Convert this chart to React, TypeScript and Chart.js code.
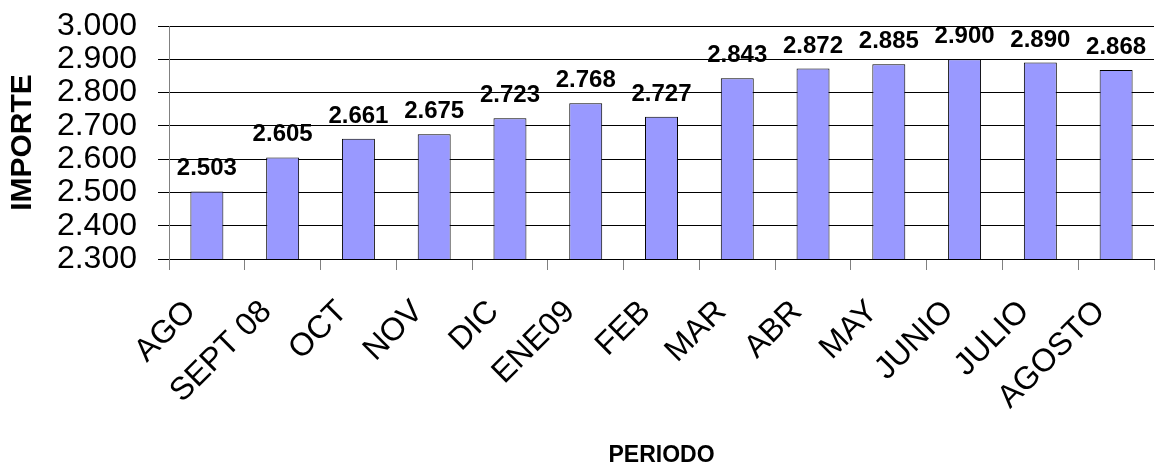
import React, { useEffect, useRef } from "react";
import { Chart, registerables } from "chart.js";

Chart.register(...registerables);

const categories = ["AGO", "SEPT 08", "OCT", "NOV", "DIC", "ENE09", "FEB", "MAR", "ABR", "MAY", "JUNIO", "JULIO", "AGOSTO"];
const importe = [2503, 2605, 2661, 2675, 2723, 2768, 2727, 2843, 2872, 2885, 2900, 2890, 2868];
const yMin = 2300;
const yMax = 3000;
const yStep = 100;
const yTitle = "IMPORTE";
const xTitle = "PERIODO";

const FONT = "'Liberation Sans', Arial, Helvetica, sans-serif";

function fmt(v: number): string {
  const th = Math.floor(v / 1000);
  const rest = String(Math.round(v - th * 1000)).padStart(3, "0");
  return th + "." + rest;
}

const valueLabels = {
  id: "valueLabels",
  afterDatasetsDraw(chart: any) {
    const ctx = chart.ctx;
    const meta = chart.getDatasetMeta(0);
    const data = chart.data.datasets[0].data as number[];
    ctx.save();
    ctx.font = "bold 24px " + FONT;
    ctx.fillStyle = "#000";
    ctx.textAlign = "center";
    ctx.textBaseline = "alphabetic";
    meta.data.forEach((el: any, i: number) => {
      ctx.fillText(fmt(data[i]), el.x, el.y - 16);
    });
    ctx.restore();
  },
};

export default function App() {
  const ref = useRef<HTMLCanvasElement | null>(null);
  useEffect(() => {
    if (!ref.current) return;
    const chart = new Chart(ref.current, {
      type: "bar",
      data: {
        labels: categories,
        datasets: [
          {
            data: importe,
            backgroundColor: "#9999FF",
            borderColor: "#000000",
            borderWidth: 1,
            barPercentage: 0.435,
            categoryPercentage: 1,
          },
        ],
      },
      options: {
        responsive: false,
        animation: false,
        layout: { padding: { top: 26, right: 6, bottom: 0, left: 0 } },
        plugins: {
          legend: { display: false },
          tooltip: { enabled: false },
        },
        scales: {
          x: {
            offset: true,
            grid: {
              offset: true,
              drawOnChartArea: false,
              drawTicks: true,
              tickLength: 11,
              color: "#808080",
            },
            border: { color: "#000000" },
            ticks: {
              autoSkip: false,
              maxRotation: 45,
              minRotation: 45,
              padding: 23,
              labelOffset: -16,
              color: "#000",
              font: { family: FONT, size: 32 },
            },
            title: {
              display: true,
              text: xTitle,
              color: "#000",
              font: { family: FONT, size: 23, weight: "bold", lineHeight: 0.85 },
              padding: { top: 0, bottom: 0 },
            },
            afterFit: (scale: any) => {
              scale.height = 206;
              scale.paddingLeft = 0;
              scale.paddingRight = 0;
            },
          },
          y: {
            min: yMin,
            max: yMax,
            grid: {
              color: "#000000",
              drawTicks: true,
              tickLength: 11,
            },
            border: { color: "#808080" },
            ticks: {
              stepSize: yStep,
              autoSkip: false,
              padding: 21,
              color: "#000",
              font: { family: FONT, size: 32 },
              callback: (v: any) => fmt(Number(v)),
            },
            title: {
              display: true,
              text: yTitle,
              color: "#000",
              font: { family: FONT, size: 30, weight: "bold", lineHeight: 1.2 },
              padding: { top: 5, bottom: 0 },
            },
            afterFit: (scale: any) => {
              scale.width = 169;
              scale.paddingTop = 0;
              scale.paddingBottom = 0;
            },
          },
        },
      },
      plugins: [valueLabels],
    });
    return () => chart.destroy();
  }, []);
  return (
    <div style={{ position: "fixed", left: 0, top: 0, width: 1160, height: 465, background: "#fff" }}>
      <canvas ref={ref} width={1160} height={465} style={{ display: "block" }} />
    </div>
  );
}
